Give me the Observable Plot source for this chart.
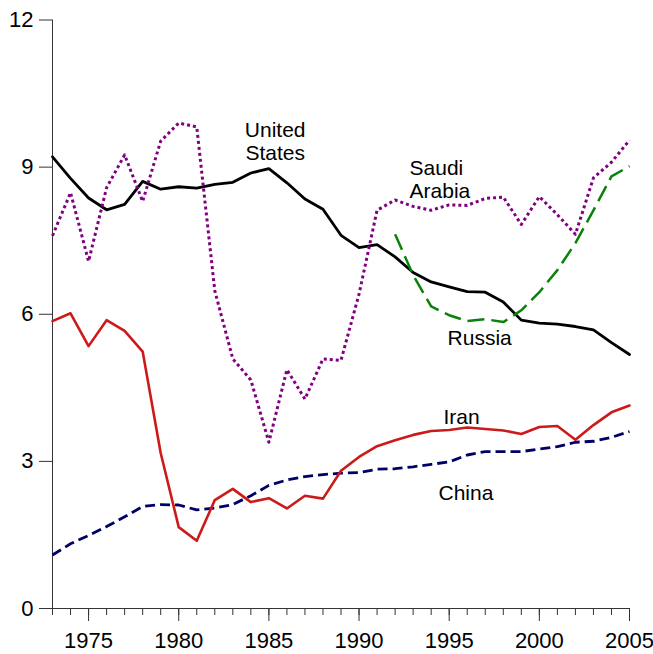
<!DOCTYPE html>
<html><head><meta charset="utf-8">
<script src="https://cdn.jsdelivr.net/npm/d3@7"></script>
<script src="https://cdn.jsdelivr.net/npm/@observablehq/plot@0.6"></script>
<style>body{margin:0;background:#fff}</style>
</head><body><div id="chart"></div>
<script>
const years = [1973,1974,1975,1976,1977,1978,1979,1980,1981,1982,1983,1984,1985,1986,1987,1988,1989,1990,1991,1992,1993,1994,1995,1996,1997,1998,1999,2000,2001,2002,2003,2004,2005];
const unitedStates = [9.21,8.77,8.37,8.13,8.24,8.71,8.55,8.60,8.57,8.65,8.69,8.88,8.97,8.68,8.35,8.14,7.61,7.36,7.42,7.17,6.85,6.66,6.56,6.46,6.45,6.25,5.88,5.82,5.80,5.75,5.68,5.42,5.18];
const saudiArabia = [7.60,8.48,7.08,8.58,9.25,8.30,9.53,9.90,9.82,6.48,5.09,4.66,3.39,4.87,4.27,5.09,5.06,6.41,8.12,8.33,8.20,8.12,8.23,8.22,8.36,8.39,7.83,8.40,8.03,7.63,8.78,9.10,9.55];
const iran = [5.86,6.02,5.35,5.88,5.66,5.24,3.17,1.66,1.38,2.21,2.44,2.17,2.25,2.04,2.30,2.24,2.81,3.09,3.31,3.43,3.54,3.62,3.64,3.69,3.66,3.63,3.56,3.70,3.72,3.44,3.74,4.00,4.14];
const china = [1.09,1.32,1.49,1.67,1.87,2.08,2.12,2.11,2.01,2.05,2.12,2.30,2.51,2.62,2.69,2.73,2.76,2.77,2.84,2.85,2.89,2.94,2.99,3.13,3.20,3.20,3.20,3.25,3.30,3.39,3.41,3.49,3.61];
const russiaYears = [1992,1993,1994,1995,1996,1997,1998,1999,2000,2001,2002,2003,2004,2005];
const russia = [7.63,6.80,6.16,5.98,5.86,5.90,5.84,6.08,6.45,6.90,7.45,8.12,8.81,9.02];
const yTicks = [0,3,6,9,12];
const xMajorTicks = [1975,1980,1985,1990,1995,2000,2005];
const labelsMiddle = [
  {text:"United\nStates", year:1985.35, value:9.95},
  {text:"Russia", year:1996.69, value:5.72},
  {text:"Iran", year:1995.69, value:4.11},
  {text:"China", year:1995.93, value:2.56}
];
const labelsStart = [
  {text:"Saudi\nArabia", year:1992.8, value:9.18}
];

const rows = (xs, vs) => xs.map((x, i) => ({year: x, value: vs[i]}));
const font = "Liberation Sans, Arial, Helvetica, sans-serif";
const axisColor = "#333";

const chart = Plot.plot({
  width: 653, height: 654,
  marginLeft: 52, marginRight: 24, marginTop: 19.5, marginBottom: 46,
  x: {domain: [1973, 2005]},
  y: {domain: [0, 12]},
  style: {fontFamily: font, fontSize: "21px", color: "#000", background: "#fff", overflow: "visible"},
  marks: [
    Plot.axisY({ticks: yTicks, tickSize: 13, tickPadding: 6, tickFormat: d => String(d), label: null, stroke: axisColor, fontSize: 22}),
    Plot.axisX({ticks: years, tickSize: 7, tickFormat: () => "", label: null, stroke: axisColor}),
    Plot.axisX({ticks: xMajorTicks, tickSize: 13, tickPadding: 10.5, tickFormat: d => String(d), label: null, stroke: axisColor, fontSize: 22}),
    Plot.ruleX([1973], {y1: 0, y2: 12, stroke: axisColor}),
    Plot.ruleY([0], {x1: 1973, x2: 2005, stroke: axisColor}),
    Plot.line(rows(years, china), {x: "year", y: "value", stroke: "#000066", strokeWidth: 2.8, strokeDasharray: "10,5", strokeLinecap: "butt", strokeLinejoin: "round"}),
    Plot.line(rows(years, iran), {x: "year", y: "value", stroke: "#cc1a1a", strokeWidth: 2.6, strokeLinejoin: "round"}),
    Plot.line(rows(years, unitedStates), {x: "year", y: "value", stroke: "#000", strokeWidth: 2.8, strokeLinejoin: "round"}),
    Plot.line(rows(russiaYears, russia), {x: "year", y: "value", stroke: "#0a820a", strokeWidth: 2.5, strokeDasharray: "17,7", strokeLinecap: "butt", strokeLinejoin: "round"}),
    Plot.line(rows(years, saudiArabia), {x: "year", y: "value", stroke: "#800080", strokeWidth: 3, strokeDasharray: "3,3", strokeLinecap: "butt", strokeLinejoin: "round"}),
    Plot.text(labelsMiddle, {x: "year", y: "value", text: "text", textAnchor: "middle", lineAnchor: "top", fontSize: 21, lineHeight: 1.11, fill: "#000"}),
    Plot.text(labelsStart, {x: "year", y: "value", text: "text", textAnchor: "start", lineAnchor: "top", fontSize: 21, lineHeight: 1.11, fill: "#000"})
  ]
});
document.getElementById("chart").appendChild(chart);
</script>
</body></html>
